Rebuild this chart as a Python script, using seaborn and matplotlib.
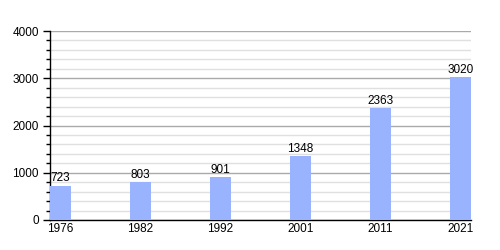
import matplotlib
matplotlib.use("Agg")
import matplotlib.pyplot as plt
import seaborn as sns
import pandas as pd
from matplotlib.ticker import MultipleLocator

years = ["1976", "1982", "1992", "2001", "2011", "2021"]
population = [723, 803, 901, 1348, 2363, 3020]

df = pd.DataFrame({"year": years, "pop": population})

sns.set_theme(style="white")
plt.rcParams['font.family'] = ['Liberation Sans', 'DejaVu Sans']
plt.rcParams['text.color'] = 'black'
plt.rcParams['xtick.color'] = 'black'
plt.rcParams['ytick.color'] = 'black'
plt.rcParams['axes.labelcolor'] = 'black'

fig = plt.figure(figsize=(5, 2.5), dpi=100)
ax = fig.add_axes([0.1, 0.12, 0.842, 0.756])

sns.barplot(data=df, x="year", y="pop", color="#99b3ff", saturation=1,
            width=0.2625, ax=ax, zorder=3, linewidth=0)

ax.set_xlim(-0.13125, 5.13125)
ax.set_ylim(0, 4000)
ax.yaxis.set_major_locator(MultipleLocator(1000))
ax.yaxis.set_minor_locator(MultipleLocator(200))
ax.grid(which="major", axis="y", color="#aaaaaa", linewidth=1, zorder=0)
ax.grid(which="minor", axis="y", color="#e0e0e0", linewidth=1, zorder=0)
ax.set_axisbelow(True)

for s in ["top", "right"]:
    ax.spines[s].set_visible(False)
ax.spines["left"].set_color("black")
ax.spines["bottom"].set_color("black")
ax.spines["left"].set_linewidth(1)
ax.spines["bottom"].set_linewidth(1)

ax.tick_params(axis="y", which="major", left=True, length=5, width=1, color="black",
               labelcolor="black", labelsize=8.5, pad=3)
ax.tick_params(axis="y", which="minor", left=True, length=3, width=1, color="black")
ax.tick_params(axis="x", which="both", bottom=False, length=0, labelcolor="black",
               labelsize=8.5, pad=2)

ax.set_xlabel("")
ax.set_ylabel("")

for c in ax.containers:
    ax.bar_label(c, labels=[str(v) for v in population], fontsize=8.5, padding=1,
                 color="black")

fig.savefig("out.png", dpi=100, facecolor="white")
